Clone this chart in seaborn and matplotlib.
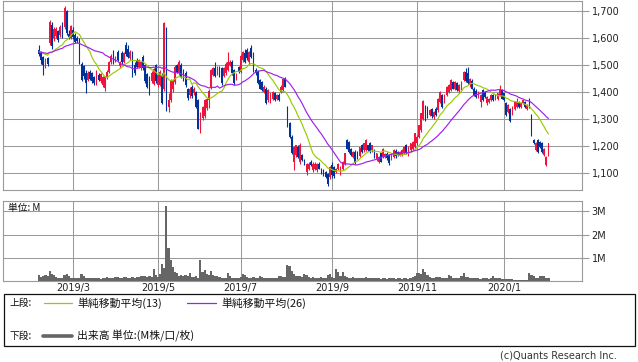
import numpy as np
import pandas as pd
import matplotlib
matplotlib.use("Agg")
import matplotlib.pyplot as plt
import seaborn as sns
from matplotlib.patches import Rectangle

# ---------------- data ----------------
start_date = "2019-02-06"
end_date = "2020-02-05"
market_holidays = ["2019-02-11", "2019-03-21", "2019-04-29", "2019-04-30", "2019-05-01",
                   "2019-05-02", "2019-05-03", "2019-05-06", "2019-07-15", "2019-08-12",
                   "2019-09-16", "2019-09-23", "2019-10-14", "2019-10-22", "2019-11-04",
                   "2019-12-31", "2020-01-01", "2020-01-02", "2020-01-03", "2020-01-13"]

prior_closes = [1530, 1545, 1550, 1540, 1555, 1560, 1548, 1535, 1542, 1550, 1558, 1545, 1538,
                1550, 1562, 1555, 1548, 1540, 1552, 1560, 1545, 1538, 1550, 1556, 1548]

opens = [1555,1548,1530,1497,1525,1580,1650,1600,1608,1625,
         1610,1648,1640,1700,1615,1600,1630,1612,1600,1595,
         1505,1495,1470,1445,1475,1470,1455,1432,1465,1440,
         1428,1415,1457,1475,1512,1550,1518,1548,1495,1545,
         1512,1575,1560,1525,1545,1500,1518,1494,1488,1530,
         1500,1468,1455,1440,1430,1500,1426,1428,1462,1410,
         1630,1345,1372,1410,1438,1500,1469,1500,1480,1472,
         1410,1388,1420,1395,1400,1370,1255,1303,1310,1340,
         1372,1415,1465,1490,1470,1488,1490,1460,1470,1482,
         1500,1512,1480,1450,1494,1475,1518,1543,1555,1512,
         1562,1543,1481,1475,1444,1438,1401,1413,1370,1364,
         1376,1395,1376,1389,1401,1407,1450,1346,1284,1234,
         1140,1166,1197,1140,1166,1148,1105,1117,1142,1111,
         1117,1111,1136,1117,1111,1105,1099,1086,1130,1123,
         1105,1117,1099,1117,1136,1222,1216,1191,1160,1179,
         1179,1165,1203,1185,1185,1203,1210,1185,1185,1154,
         1142,1173,1160,1160,1170,1166,1154,1160,1183,1178,
         1166,1166,1173,1203,1180,1185,1191,1197,1212,1235,
         1259,1302,1346,1340,1315,1338,1309,1339,1333,1364,
         1389,1364,1389,1401,1407,1438,1413,1432,1405,1413,
         1444,1475,1470,1426,1440,1413,1405,1383,1364,1407,
         1401,1358,1364,1370,1389,1376,1376,1389,1407,1395,
         1358,1327,1339,1321,1339,1346,1364,1346,1358,1364,
         1339,1370,1315,1222,1185,1222,1216,1210,1167,1130,1166]

highs = [1575,1552,1535,1525,1530,1665,1660,1640,1640,1630,
         1648,1660,1720,1705,1630,1650,1640,1620,1608,1600,
         1510,1500,1480,1478,1482,1475,1460,1480,1470,1472,
         1460,1460,1480,1515,1540,1555,1535,1555,1515,1552,
         1550,1585,1575,1555,1552,1510,1525,1522,1515,1537,
         1505,1472,1460,1478,1490,1505,1468,1480,1470,1660,
         1640,1395,1448,1450,1500,1505,1520,1508,1485,1478,
         1415,1418,1425,1418,1405,1375,1325,1350,1375,1378,
         1410,1485,1492,1512,1498,1495,1494,1492,1510,1550,
         1518,1518,1485,1472,1498,1540,1552,1560,1565,1552,
         1575,1548,1488,1480,1450,1442,1425,1418,1410,1398,
         1405,1400,1392,1395,1425,1452,1455,1350,1288,1240,
         1200,1205,1205,1212,1172,1152,1138,1140,1148,1140,
         1140,1138,1140,1120,1115,1110,1102,1125,1140,1128,
         1120,1138,1126,1145,1176,1226,1220,1195,1182,1185,
         1184,1198,1207,1212,1226,1206,1214,1206,1188,1175,
         1162,1176,1193,1175,1178,1170,1176,1188,1188,1182,
         1182,1188,1200,1208,1199,1213,1218,1250,1240,1280,
         1324,1372,1352,1348,1336,1342,1330,1345,1380,1405,
         1393,1392,1423,1430,1447,1442,1440,1436,1430,1440,
         1478,1490,1492,1452,1448,1418,1410,1404,1392,1412,
         1405,1386,1380,1392,1392,1392,1398,1426,1412,1398,
         1362,1355,1342,1348,1367,1378,1368,1362,1372,1368,
         1355,1378,1320,1226,1214,1226,1220,1214,1193,1162,1213]

lows = [1535,1505,1462,1490,1495,1575,1560,1590,1600,1585,
        1605,1600,1635,1610,1598,1595,1598,1580,1583,1505,
        1440,1450,1397,1440,1445,1435,1428,1428,1440,1435,
        1420,1405,1450,1470,1505,1505,1510,1515,1488,1505,
        1508,1535,1525,1520,1455,1465,1490,1488,1480,1482,
        1435,1415,1388,1435,1425,1432,1420,1422,1355,1405,
        1330,1325,1365,1400,1430,1470,1465,1452,1440,1420,
        1372,1380,1380,1390,1340,1262,1247,1298,1305,1335,
        1340,1410,1460,1455,1465,1455,1428,1455,1465,1478,
        1495,1465,1428,1445,1470,1470,1512,1508,1520,1505,
        1528,1475,1465,1430,1410,1405,1396,1355,1365,1360,
        1372,1368,1372,1368,1396,1402,1418,1270,1232,1170,
        1111,1160,1155,1135,1145,1132,1093,1112,1125,1105,
        1112,1106,1115,1097,1090,1083,1054,1080,1082,1084,
        1100,1112,1095,1112,1132,1188,1176,1165,1155,1134,
        1152,1160,1176,1180,1182,1183,1176,1180,1158,1147,
        1138,1140,1156,1155,1150,1132,1150,1156,1158,1164,
        1162,1162,1170,1170,1164,1180,1186,1192,1205,1230,
        1252,1298,1292,1305,1310,1306,1302,1312,1328,1360,
        1343,1360,1385,1396,1403,1410,1408,1405,1398,1409,
        1440,1436,1430,1420,1410,1386,1380,1378,1346,1367,
        1380,1352,1360,1366,1367,1372,1372,1385,1373,1367,
        1312,1322,1288,1316,1335,1342,1343,1342,1355,1343,
        1335,1343,1238,1207,1182,1176,1194,1176,1162,1126,1162]

closes = [1542,1520,1500,1520,1505,1660,1570,1635,1632,1592,
          1642,1605,1712,1617,1605,1645,1605,1585,1588,1512,
          1445,1460,1435,1472,1450,1440,1432,1475,1445,1468,
          1455,1455,1475,1510,1535,1512,1530,1520,1510,1512,
          1545,1540,1530,1548,1462,1472,1494,1518,1510,1488,
          1440,1420,1395,1472,1485,1440,1462,1475,1360,1655,
          1335,1370,1444,1440,1494,1475,1512,1457,1444,1426,
          1378,1413,1385,1410,1346,1265,1320,1345,1370,1375,
          1405,1480,1488,1458,1492,1460,1432,1488,1505,1512,
          1512,1470,1432,1468,1475,1535,1548,1512,1525,1549,
          1531,1480,1469,1432,1413,1408,1420,1358,1407,1395,
          1401,1370,1389,1370,1420,1448,1420,1272,1235,1173,
          1197,1203,1160,1205,1148,1136,1134,1136,1130,1136,
          1136,1134,1117,1099,1093,1086,1062,1123,1092,1088,
          1117,1136,1123,1142,1173,1191,1179,1168,1179,1138,
          1155,1196,1179,1210,1222,1186,1180,1203,1160,1173,
          1160,1142,1191,1172,1156,1138,1173,1185,1162,1167,
          1179,1185,1197,1173,1196,1210,1216,1247,1234,1278,
          1321,1368,1298,1310,1333,1310,1327,1316,1376,1401,
          1346,1389,1420,1426,1444,1413,1436,1409,1426,1438,
          1475,1440,1434,1448,1413,1389,1383,1401,1389,1370,
          1383,1383,1376,1389,1370,1389,1395,1413,1376,1370,
          1315,1352,1292,1346,1364,1364,1346,1358,1370,1346,
          1352,1346,1241,1210,1210,1179,1197,1179,1191,1160,1210]

volumes_m = [0.26,0.18,0.22,0.25,0.20,0.45,0.30,0.28,0.16,0.14,
             0.12,0.12,0.26,0.30,0.22,0.15,0.14,0.12,0.12,0.14,
             0.30,0.22,0.14,0.13,0.15,0.12,0.14,0.11,0.12,0.10,
             0.12,0.11,0.19,0.15,0.14,0.13,0.17,0.19,0.15,0.14,
             0.16,0.19,0.14,0.13,0.17,0.15,0.19,0.16,0.22,0.20,
             0.22,0.18,0.20,0.17,0.52,0.26,0.18,0.30,0.72,0.55,
             3.23,1.42,0.91,0.62,0.40,0.33,0.22,0.26,0.20,0.28,
             0.22,0.36,0.18,0.16,0.20,0.15,0.91,0.40,0.48,0.30,
             0.26,0.43,0.25,0.20,0.22,0.16,0.14,0.15,0.13,0.36,
             0.22,0.15,0.13,0.14,0.12,0.16,0.30,0.26,0.18,0.15,
             0.14,0.16,0.13,0.14,0.22,0.16,0.14,0.12,0.15,0.13,
             0.14,0.12,0.15,0.20,0.22,0.18,0.16,0.70,0.65,0.43,
             0.30,0.22,0.20,0.22,0.18,0.30,0.28,0.16,0.14,0.18,
             0.13,0.15,0.14,0.16,0.14,0.13,0.24,0.30,0.18,0.15,
             0.52,0.40,0.22,0.40,0.22,0.18,0.15,0.14,0.18,0.15,
             0.13,0.15,0.14,0.13,0.16,0.12,0.14,0.13,0.12,0.14,
             0.12,0.10,0.11,0.12,0.10,0.12,0.11,0.13,0.10,0.12,
             0.11,0.10,0.14,0.12,0.10,0.12,0.16,0.20,0.36,0.36,
             0.30,0.52,0.40,0.28,0.18,0.15,0.14,0.16,0.18,0.16,
             0.15,0.14,0.12,0.26,0.20,0.14,0.12,0.13,0.12,0.20,
             0.36,0.18,0.16,0.15,0.12,0.13,0.15,0.12,0.10,0.12,
             0.11,0.12,0.10,0.12,0.22,0.14,0.12,0.14,0.08,0.07,
             0.08,0.07,0.08,0.07,0.06,0.05,0.05,0.04,0.05,0.04,
             0.05,0.36,0.28,0.20,0.14,0.13,0.22,0.20,0.22,0.14,0.12]

month_starts = ["2019-03-01", "2019-05-01", "2019-07-01", "2019-09-01", "2019-11-01", "2020-01-01"]
month_labels = ["2019/3", "2019/5", "2019/7", "2019/9", "2019/11", "2020/1"]
price_ticks = [1100, 1200, 1300, 1400, 1500, 1600, 1700]
price_tick_labels = ["1,100", "1,200", "1,300", "1,400", "1,500", "1,600", "1,700"]
volume_ticks = [1, 2, 3]
volume_tick_labels = ["1M", "2M", "3M"]
legend_labels = ["単純移動平均(13)", "単純移動平均(26)", "出来高 単位:(M株/口/枚)"]

# ---------------- build table ----------------
days = pd.bdate_range(start_date, end_date, freq="C", holidays=market_holidays)
n = min(len(days), len(opens), len(highs), len(lows), len(closes), len(volumes_m))
df = pd.DataFrame({"date": days[:n], "open": opens[:n], "high": highs[:n],
                   "low": lows[:n], "close": closes[:n], "volume": volumes_m[:n]})
df["x"] = np.arange(n)
all_close = pd.Series(list(prior_closes) + list(df["close"]))
df["ma13"] = all_close.rolling(13, min_periods=1).mean().values[len(prior_closes):]
df["ma26"] = all_close.rolling(26, min_periods=1).mean().values[len(prior_closes):]
tick_x = [int(np.searchsorted(df["date"].values, np.datetime64(m))) for m in month_starts]

# ---------------- styling ----------------
sns.set_theme(style="white")
plt.rcParams["font.family"] = ["DejaVu Sans"]
cjk = ["Noto Sans CJK JP", "DejaVu Sans"]

RED = "#F0143C"
BLUE = "#003399"
GREEN = "#99CC00"
PURPLE = "#A020F0"
GRID = "#9A9A9A"
VOLC = "#666666"

W, H = 638, 362
fig = plt.figure(figsize=(W / 100, H / 100), dpi=100)


def rect(l, t, r, b):
    return [l / W, 1 - b / H, (r - l) / W, (b - t) / H]


axp = fig.add_axes(rect(3, 1, 582, 190))
axv = fig.add_axes(rect(3, 201, 582, 281))
XL = (-17.0, 255.8)

for ax in (axp, axv):
    ax.set_facecolor("white")
    ax.set_xlim(*XL)
    ax.set_axisbelow(True)
    for s in ax.spines.values():
        s.set_color(GRID)
        s.set_linewidth(0.8)
    ax.set_xticks(tick_x)
    ax.grid(True, color=GRID, linewidth=0.75)
    ax.yaxis.tick_right()
    ax.tick_params(axis="y", which="both", length=5, width=0.8, color=GRID,
                   labelsize=7, pad=2, labelcolor="#222222", left=False, right=True)
    ax.tick_params(axis="x", length=0, labelsize=7, pad=1.5, labelcolor="#222222")

# candles
up = df["close"] >= df["open"]
colors = np.where(up, RED, BLUE)
axp.vlines(df["x"], df["low"], df["high"], colors=colors, linewidth=0.8, zorder=3)
body_bottom = np.minimum(df["open"], df["close"])
body_h = np.maximum(np.abs(df["close"] - df["open"]), 2.5)
axp.bar(df["x"], body_h, bottom=body_bottom, width=0.8, color=colors, linewidth=0, zorder=4)

sns.lineplot(data=df, x="x", y="ma13", ax=axp, color=GREEN, linewidth=0.85, zorder=5)
sns.lineplot(data=df, x="x", y="ma26", ax=axp, color=PURPLE, linewidth=0.85, zorder=5)

axp.set_ylim(1038, 1737)
axp.set_yticks(price_ticks)
axp.set_yticklabels(price_tick_labels)
axp.set_xticklabels([])
axp.set_xlabel("")
axp.set_ylabel("")
axp.set_xlim(*XL)

# volume
axv.bar(df["x"], df["volume"], width=1.0, color=VOLC, linewidth=0, zorder=3)
axv.set_ylim(0, 3.45)
axv.set_yticks(volume_ticks)
axv.set_yticklabels(volume_tick_labels)
axv.set_xticklabels(month_labels)
axv.set_xlim(*XL)

# overlay for legend and notes (pixel coordinates)
ov = fig.add_axes([0, 0, 1, 1])
ov.set_xlim(0, W)
ov.set_ylim(H, 0)
ov.axis("off")
ov.patch.set_alpha(0)

ov.text(8, 208, "単位: M", fontsize=7, family=cjk, va="center", ha="left", color="#111111")

ov.add_patch(Rectangle((3.5, 293.5), 631, 52, fill=False, edgecolor="#111111", linewidth=0.9))
ov.text(9, 303, "上段:", fontsize=7, family=cjk, va="center", ha="left", color="#111111")
ov.plot([44, 72], [303, 303], color=GREEN, linewidth=0.9)
ov.text(77, 303, legend_labels[0], fontsize=7.8, family=cjk, va="center", ha="left", color="#111111")
ov.plot([187, 216], [303, 303], color=PURPLE, linewidth=0.9)
ov.text(221, 303, legend_labels[1], fontsize=7.8, family=cjk, va="center", ha="left", color="#111111")
ov.text(9, 336, "下段:", fontsize=7, family=cjk, va="center", ha="left", color="#111111")
ov.plot([43, 72], [336, 336], color=VOLC, linewidth=2.6)
ov.text(77, 336, legend_labels[2], fontsize=7.8, family=cjk, va="center", ha="left", color="#111111")

ov.text(617, 356, "(c)Quants Research Inc.", fontsize=7, va="center", ha="right", color="#333333")

fig.savefig("out.png", dpi=100, facecolor="white")
